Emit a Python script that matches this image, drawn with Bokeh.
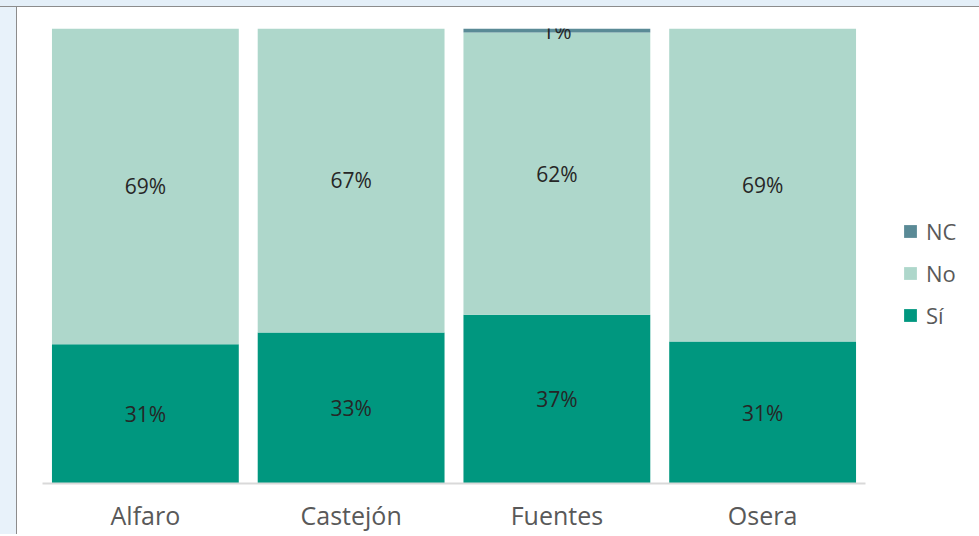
from bokeh.plotting import figure
from bokeh.models import ColumnDataSource, FactorRange, Range1d, Legend, LegendItem
from bokeh.core.properties import value
from bokeh.embed import file_html
from bokeh.resources import INLINE

categories = ["Alfaro", "Castejón", "Fuentes", "Osera"]
si = [30.6, 33.2, 37.1, 31.2]
no = [69.4, 66.8, 62.0, 68.8]
nc = [0.0, 0.0, 0.9, 0.0]
series = ["si", "no", "nc"]
series_labels = ["Sí", "No", "NC"]
colors = ["#00977f", "#aed7cb", "#5a8a96"]

FONT = "Open Sans"

src = ColumnDataSource(dict(cat=categories, si=si, no=no, nc=nc))

p = figure(
    x_range=FactorRange(*categories, range_padding=0.0),
    y_range=Range1d(0, 100),
    frame_width=823, frame_height=455,
    min_border_left=42, min_border_top=28, min_border_right=114, min_border_bottom=10,
    output_backend="svg", toolbar_location=None,
    background_fill_color="white", border_fill_alpha=0,
)
p.styles = {
    "background": "linear-gradient(to bottom, #e4eff8 0px, #e4eff8 6px, #8c8c8c 6px, #8c8c8c 7px, transparent 7px), "
                  "linear-gradient(to right, #e8f2fa 0px, #e8f2fa 16px, #8c8c8c 16px, #8c8c8c 17px, #ffffff 17px)",
}
p.outline_line_color = None
p.xgrid.visible = False
p.ygrid.visible = False
p.yaxis.visible = False

rs = p.vbar_stack(series, x="cat", width=0.908, color=colors, line_color=None, source=src)

# data labels
lx, ly, lt = [], [], []
for i, c in enumerate(categories):
    base = 0.0
    for vals in (si, no, nc):
        v = vals[i]
        if v > 0:
            lx.append(c)
            ly.append(base + v / 2)
            lt.append(f"{round(v):d}%")
        base += v
lsrc = ColumnDataSource(dict(x=lx, y=ly, t=lt))
p.text(x="x", y="y", text="t", source=lsrc, text_align="center", text_baseline="middle",
       text_font=value(FONT), text_font_size="21px", text_color="#262626")

ax = p.xaxis[0]
ax.axis_line_color = "#d9d9d9"
ax.axis_line_width = 2
ax.major_tick_line_color = None
ax.minor_tick_line_color = None
ax.major_label_text_font = FONT
ax.major_label_text_font_size = "25px"
ax.major_label_text_color = "#595959"
ax.major_label_standoff = 8

legend = Legend(
    items=[LegendItem(label=series_labels[k], renderers=[rs[k]]) for k in (2, 1, 0)],
    location=(37, 153),
    border_line_color=None, background_fill_alpha=0,
    padding=0, margin=0, spacing=12,
    glyph_width=16, glyph_height=16, label_standoff=8,
    label_text_font=FONT, label_text_font_size="22px", label_text_color="#595959",
)
p.add_layout(legend, "right")

open("out.html", "w").write(file_html(p, INLINE))
